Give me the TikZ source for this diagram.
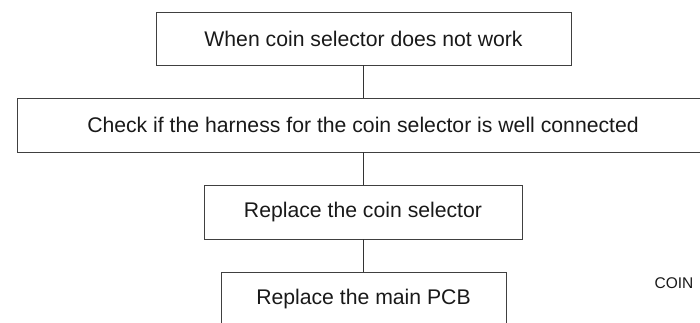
\documentclass[tikz,border=0pt]{standalone}
\usepackage{fontspec}
\setmainfont{Liberation Sans}
\begin{document}
\begin{tikzpicture}[x=1pt,y=1pt,
  flowbox/.style={draw=black!75,line width=0.9pt,inner sep=0pt,minimum height=54pt,
    font=\fontsize{21.2}{25}\selectfont,text=black!90},
  link/.style={draw=black!80,line width=0.9pt}]
\useasboundingbox (0,0) rectangle (700,322);
\node[flowbox,minimum width=415pt,minimum height=53pt] (b1) at (363.5,283.5) {When coin selector does not work};
\node[flowbox,minimum width=692pt] (b2) at (363,197) {Check if the harness for the coin selector is well connected};
\node[flowbox,minimum width=318pt] (b3) at (363,110) {Replace the coin selector};
\node[flowbox,minimum width=285pt] (b4) at (363.5,23) {Replace the main PCB};
\node[font=\fontsize{15.5}{18}\selectfont,text=black!90] (coin) at (674,39) {COIN};
\draw[link] (b1.south) -- (b1.south |- b2.north);
\draw[link] (b2.south) -- (b2.south |- b3.north);
\draw[link] (b3.south) -- (b3.south |- b4.north);
\end{tikzpicture}
\end{document}
